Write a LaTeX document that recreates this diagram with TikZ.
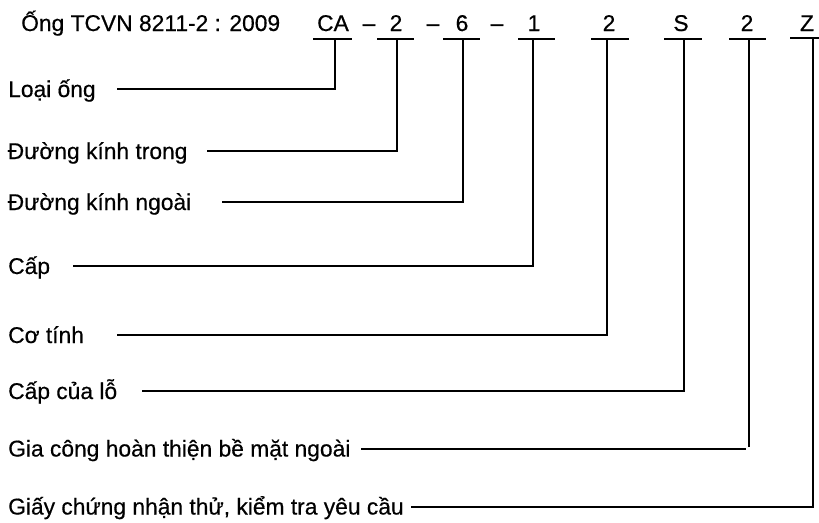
\documentclass[tikz,border=0pt]{standalone}
\usepackage{fontspec}
\setmainfont{Liberation Sans}[FakeBold=0.5]
\begin{document}
\begin{tikzpicture}[x=1pt,y=-1pt,
  lbl/.style={anchor=base west,inner sep=0pt,font=\fontsize{22.8}{27}\selectfont},
  code/.style={anchor=base,inner sep=0pt,font=\fontsize{22.8}{27}\selectfont},
  wire/.style={line width=2pt,line cap=rect},
  barline/.style={line width=2pt}]
\useasboundingbox (0,0) rectangle (819,522);
% header
\node[lbl] (title) at (21,31) {Ống TCVN 8211-2 : 2009};
\node[code] (cCA) at (333,31) {CA};
\node[code] (d1) at (369,31) {–};
\node[code] (c2) at (396,31) {2};
\node[code] (d2) at (433,31) {–};
\node[code] (c6) at (462,31) {6};
\node[code] (d3) at (497,31) {–};
\node[code] (c1) at (534,31) {1};
\node[code] (c2b) at (609,31) {2};
\node[code] (cS) at (681,31) {S};
\node[code] (c2c) at (747,31) {2};
\node[code] (cZ) at (807,31) {Z};
% bars
\draw[barline] (313,39) -- (352,39);
\draw[barline] (377,39) -- (414,39);
\draw[barline] (443,39) -- (480,39);
\draw[barline] (518,39) -- (555,39);
\draw[barline] (591,39) -- (629,39);
\draw[barline] (664,39) -- (702,39);
\draw[barline] (729,39) -- (766,39);
\draw[barline] (790,38) -- (830,38);
% bar stems
\coordinate (v1) at (335,39);
\coordinate (v2) at (397,39);
\coordinate (v3) at (463,39);
\coordinate (v4) at (533,39);
\coordinate (v5) at (607,39);
\coordinate (v6) at (684,39);
\coordinate (v7) at (749,39);
\coordinate (v8) at (813,38);
% labels
\node[lbl] (l1) at (8,97) {Loại ống};
\node[lbl] (l2) at (7.5,159) {Đường kính trong};
\node[lbl] (l3) at (7.5,210) {Đường kính ngoài};
\node[lbl] (l4) at (8,274) {Cấp};
\node[lbl] (l5) at (8,343) {Cơ tính};
\node[lbl] (l6) at (8,399) {Cấp của lỗ};
\node[lbl] (l7) at (8,456.5) {Gia công hoàn thiện bề mặt ngoài};
\node[lbl] (l8) at (8,514.5) {Giấy chứng nhận thử, kiểm tra yêu cầu};
% line starts
\coordinate (s1) at (118,89);
\coordinate (s2) at (208,151);
\coordinate (s3) at (223,202);
\coordinate (s4) at (74,266);
\coordinate (s5) at (118,335);
\coordinate (s6) at (143,391);
\coordinate (s7) at (362,448.5);
\coordinate (s8) at (412,506.5);
% connectors
\draw[wire] (s1) -| (v1);
\draw[wire] (s2) -| (v2);
\draw[wire] (s3) -| (v3);
\draw[wire] (s4) -| (v4);
\draw[wire] (s5) -| (v5);
\draw[wire] (s6) -| (v6);
\draw[wire] (s7) -- (745,448.5);
\draw[wire] (749,446) -- (v7);
\draw[wire] (s8) -| (v8);
\end{tikzpicture}
\end{document}
